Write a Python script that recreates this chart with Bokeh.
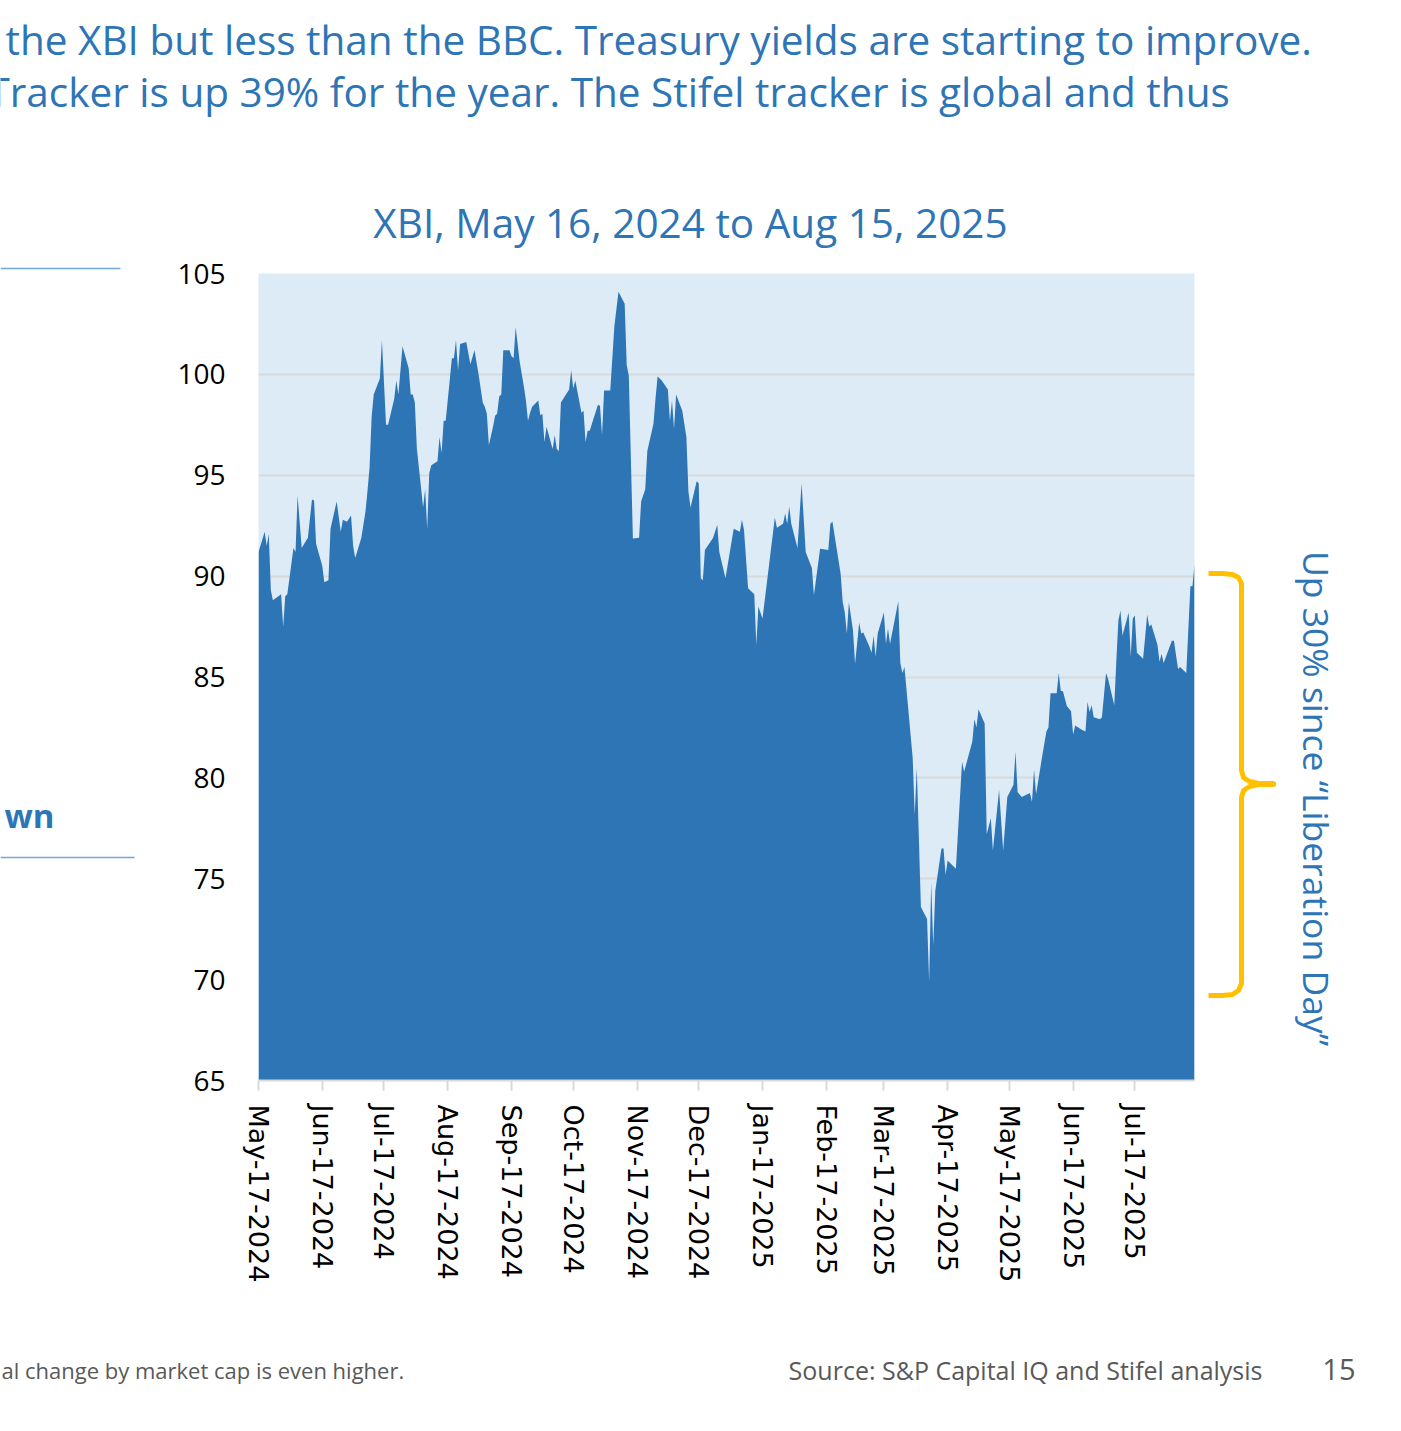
import math
import pandas as pd
from bokeh.plotting import figure
from bokeh.layouts import column, row
from bokeh.models import FixedTicker, DatetimeTickFormatter, Label, Range1d
from bokeh.embed import file_html
from bokeh.resources import INLINE

# ---------------- data ----------------
start_date = "2024-05-17"
end_date = "2025-08-15"

day_offsets = [
    0, 3, 4, 5, 6, 7, 11, 12, 13, 14, 17, 18, 19, 21, 24, 26, 27, 28, 31, 32,
    34, 35, 38, 40, 41, 43, 45, 46, 47, 50, 52, 53, 54, 55, 56, 59, 60, 62, 63, 66,
    67, 68, 70, 73, 74, 75, 76, 77, 79, 80, 81, 82, 83, 84, 87, 88, 89, 90, 91, 94,
    95, 96, 97, 98, 101, 103, 105, 107, 109, 110, 111, 112, 114, 115, 116, 117, 118, 119, 122, 123,
    124, 125, 127, 129, 130, 131, 132, 133, 136, 137, 138, 139, 140, 143, 144, 145, 146, 147, 151, 152,
    153, 154, 157, 158, 159, 160, 161, 165, 166, 167, 168, 171, 173, 175, 178, 179, 180, 182, 185, 186,
    188, 189, 192, 193, 194, 196, 199, 200, 201, 202, 203, 206, 208, 209, 210, 213, 214, 215, 216, 217,
    221, 223, 224, 227, 231, 234, 235, 236, 238, 241, 242, 243, 245, 251, 252, 255, 256, 257, 258, 259,
    262, 264, 266, 269, 270, 273, 277, 278, 279, 283, 284, 285, 286, 287, 289, 290, 292, 293, 294, 297,
    298, 299, 300, 301, 304, 305, 306, 307, 311, 312, 313, 314, 318, 319, 320, 322, 325, 326, 327, 328,
    329, 332, 333, 334, 335, 339, 342, 343, 347, 348, 349, 350, 353, 354, 356, 357, 360, 362, 364, 367,
    368, 369, 371, 375, 376, 377, 378, 381, 383, 384, 385, 388, 389, 390, 391, 393, 395, 396, 397, 400,
    402, 403, 404, 405, 406, 409, 410, 412, 413, 416, 417, 418, 419, 420, 423, 424, 425, 426, 427, 430,
    431, 432, 433, 434, 437, 438, 439, 440, 444, 445, 447, 448, 451, 453, 454, 455,
]

xbi_values = [
    91.2, 92.2, 91.5, 92.1, 89.3, 88.8, 89.1, 87.5, 89.0, 89.1, 91.4, 91.2, 94.0, 91.4, 91.9, 93.8, 93.75, 91.6, 90.5, 89.7,
    89.8, 92.35, 93.7, 92.2, 92.8, 92.7, 93.0, 91.5, 90.9, 91.9, 93.2, 94.25, 95.4, 97.9, 99.0, 99.8, 101.7, 97.5, 97.5, 98.8,
    99.7, 99.0, 101.4, 100.3, 99.0, 99.0, 98.6, 96.3, 94.4, 93.4, 94.3, 92.35, 95.1, 95.5, 95.7, 96.9, 96.1, 97.7, 97.7, 100.8,
    100.8, 101.7, 100.2, 101.5, 101.6, 100.5, 101.2, 100.0, 98.6, 98.4, 98.05, 96.5, 97.4, 97.95, 98.05, 98.9, 99.0, 101.2, 101.2, 100.9,
    100.8, 102.35, 100.6, 99.4, 98.7, 97.7, 98.1, 98.4, 98.7, 97.97, 98.05, 96.65, 97.4, 96.3, 97.0, 96.3, 96.2, 98.6, 99.25, 100.2,
    99.3, 99.7, 98.1, 98.2, 96.65, 97.2, 97.2, 98.5, 98.45, 97.0, 99.2, 99.2, 102.4, 104.1, 103.5, 100.45, 99.95, 91.86, 91.9, 93.7,
    94.3, 96.2, 97.55, 98.8, 99.9, 99.7, 99.25, 97.7, 98.7, 97.3, 99.0, 98.2, 96.9, 94.2, 93.4, 94.7, 94.6, 89.9, 89.8, 91.3,
    91.9, 92.55, 91.2, 89.9, 92.35, 92.2, 92.8, 92.3, 89.4, 89.1, 86.6, 88.5, 87.9, 92.9, 92.4, 92.6, 93.1, 92.6, 93.45, 92.6,
    91.4, 94.6, 91.2, 90.4, 89.05, 91.36, 91.3, 92.6, 92.7, 90.1, 88.7, 88.2, 87.15, 88.7, 87.3, 85.66, 87.7, 87.15, 87.2, 86.5,
    86.2, 87.05, 86.0, 87.15, 88.2, 86.65, 87.4, 86.65, 88.75, 85.7, 85.2, 85.5, 81.0, 78.2, 80.5, 73.6, 73.0, 69.9, 74.8, 71.7,
    74.4, 76.5, 76.5, 75.2, 75.9, 75.5, 80.8, 80.3, 81.8, 82.9, 82.5, 83.4, 82.7, 77.2, 78.0, 76.4, 79.4, 76.4, 79.05, 79.66,
    81.3, 79.3, 79.05, 79.25, 78.8, 80.4, 79.2, 81.1, 82.3, 82.5, 84.2, 84.2, 85.2, 84.3, 84.3, 83.55, 83.3, 82.15, 82.6, 82.4,
    82.3, 83.76, 83.26, 83.6, 83.0, 82.9, 83.0, 85.2, 84.9, 83.6, 85.8, 87.8, 88.3, 87.06, 88.2, 86.0, 87.9, 88.05, 86.2, 85.9,
    86.98, 88.1, 87.5, 87.6, 86.6, 85.75, 86.15, 85.7, 86.8, 86.8, 85.4, 85.5, 85.2, 89.5, 89.5, 90.6,
]

x_tick_dates = [
    "2024-05-17", "2024-06-17", "2024-07-17", "2024-08-17", "2024-09-17",
    "2024-10-17", "2024-11-17", "2024-12-17", "2025-01-17", "2025-02-17",
    "2025-03-17", "2025-04-17", "2025-05-17", "2025-06-17", "2025-07-17",
]
y_ticks = [65, 70, 75, 80, 85, 90, 95, 100, 105]

title_text = "XBI, May 16, 2024 to Aug 15, 2025"
header_line1 = "the XBI but less than the BBC. Treasury yields are starting to improve."
header_line2 = "Tracker is up 39% for the year. The Stifel tracker is global and thus"
side_fragment = "wn"
brace_text = "Up 30% since \u201cLiberation Day\u201d"
footnote_text = "al change by market cap is even higher."
source_text = "Source: S&P Capital IQ and Stifel analysis"
page_number = "15"

# ---------------- styling ----------------
BLUE = "#2E75B6"
AREA = "#2E75B6"
PLOT_BG = "#DDEBF7"
GRID = "#D9D9D9"
GOLD = "#FFC000"
GRAY = "#595959"
RULE = "#6FA8DC"
FONT = "Open Sans"

PAGE_W = 1400
HEAD_H = 250
MID_H = 1050
FOOT_H = 125
LEFT_W = 150
RIGHT_W = 200
MAIN_W = PAGE_W - LEFT_W - RIGHT_W


def blank_panel(x0, y0, w, h):
    """A plain figure whose range is measured in page pixels (y downward)."""
    f = figure(width=w, height=h, x_range=Range1d(x0, x0 + w), y_range=Range1d(y0 + h, y0),
               x_axis_location=None, y_axis_location=None,
               output_backend="svg", toolbar_location=None,
               min_border=0, min_border_left=0, min_border_right=0,
               min_border_top=0, min_border_bottom=0, frame_align=False)
    f.outline_line_color = None
    f.grid.visible = False
    f.background_fill_color = "white"
    f.border_fill_color = "white"
    return f


def put_text(f, x, y, text, size, color, align="left", style="normal", angle=0.0, baseline="alphabetic"):
    f.add_layout(Label(x=x, y=y, text=text, text_font=FONT, text_font_size=size,
                       text_color=color, text_align=align, text_baseline=baseline,
                       text_font_style=style, angle=angle))


# ---------------- header ----------------
head = blank_panel(0, 0, PAGE_W, HEAD_H)
put_text(head, 5, 39, header_line1, "40.5px", BLUE)
put_text(head, -13, 91, header_line2, "40.5px", BLUE)
put_text(head, 690, 222, title_text, "40.5px", BLUE, align="center")

# ---------------- left strip ----------------
left = blank_panel(0, HEAD_H, LEFT_W, MID_H)
left.line(x=[0, 120], y=[268, 268], line_color=RULE, line_width=1.5)
left.line(x=[0, 134], y=[857, 857], line_color=RULE, line_width=1.5)
put_text(left, 4, 815, side_fragment, "33px", BLUE, style="bold")

# ---------------- main chart ----------------
dates = pd.Timestamp(start_date) + pd.to_timedelta(day_offsets, unit="D")

p = figure(
    width=MAIN_W, height=MID_H, x_axis_type="datetime",
    x_range=Range1d(pd.Timestamp(start_date), pd.Timestamp(end_date)),
    y_range=Range1d(y_ticks[0], y_ticks[-1]),
    output_backend="svg", toolbar_location=None,
    min_border_left=258 - LEFT_W, min_border_right=LEFT_W + MAIN_W - 1194,
    min_border_top=273 - HEAD_H, min_border_bottom=HEAD_H + MID_H - 1080,
    frame_align=False,
)
p.outline_line_color = None
p.background_fill_color = PLOT_BG
p.border_fill_color = "white"

p.varea(x=dates, y1=y_ticks[0], y2=xbi_values, fill_color=AREA)

p.xgrid.visible = False
p.ygrid.ticker = FixedTicker(ticks=y_ticks)
p.ygrid.grid_line_color = GRID
p.ygrid.grid_line_width = 2

p.yaxis.ticker = FixedTicker(ticks=y_ticks)
p.yaxis.axis_line_color = None
p.yaxis.major_tick_line_color = None
p.yaxis.minor_tick_line_color = None
p.yaxis.major_tick_out = 0
p.yaxis.major_tick_in = 0
p.yaxis.major_label_standoff = 33
p.yaxis.major_label_text_font = FONT
p.yaxis.major_label_text_font_size = "28px"
p.yaxis.major_label_text_color = "black"

tick_ms = [pd.Timestamp(d).value / 1e6 for d in x_tick_dates]
p.xaxis.ticker = FixedTicker(ticks=tick_ms)
fmt = "%b-%d-%Y"
p.xaxis.formatter = DatetimeTickFormatter(
    milliseconds=fmt, seconds=fmt, minsec=fmt, minutes=fmt, hourmin=fmt,
    hours=fmt, days=fmt, months=fmt, years=fmt,
)
p.xaxis.axis_line_color = GRID
p.xaxis.axis_line_width = 2
p.xaxis.major_tick_line_color = GRID
p.xaxis.major_tick_line_width = 2
p.xaxis.major_tick_in = 0
p.xaxis.major_tick_out = 10
p.xaxis.minor_tick_line_color = None
p.xaxis.major_label_orientation = -math.pi / 2
p.xaxis.major_label_standoff = 14
p.xaxis.major_label_text_font = "DejaVu Sans"
p.xaxis.major_label_text_font_size = "27px"
p.xaxis.major_label_text_color = "black"

# ---------------- right strip: brace + note ----------------
right = blank_panel(LEFT_W + MAIN_W, HEAD_H, RIGHT_W, MID_H)
bx = [1208, 1222, 1232, 1238, 1241, 1241, 1243, 1249, 1258, 1273]
by = [573, 573, 574, 577, 583, 770, 777, 781, 783, 783]
bx2 = [1273, 1258, 1249, 1243, 1241, 1241, 1238, 1232, 1222, 1208]
by2 = [784, 784, 786, 790, 797, 983, 990, 994, 995, 995]
right.line(x=bx + bx2, y=by + by2, line_color=GOLD, line_width=5, line_join="round")
put_text(right, 1316, 798, brace_text, "35.5px", BLUE, align="center", angle=-math.pi / 2, baseline="middle")

# ---------------- footer ----------------
foot = blank_panel(0, HEAD_H + MID_H, PAGE_W, FOOT_H)
put_text(foot, 1, 1369, footnote_text, "22px", GRAY)
put_text(foot, 1262, 1369, source_text, "25px", GRAY, align="right")
put_text(foot, 1355, 1369, page_number, "29px", GRAY, align="right")

layout = column(head, row(left, p, right, spacing=0), foot, spacing=0)

open("out.html", "w").write(file_html(layout, INLINE))
